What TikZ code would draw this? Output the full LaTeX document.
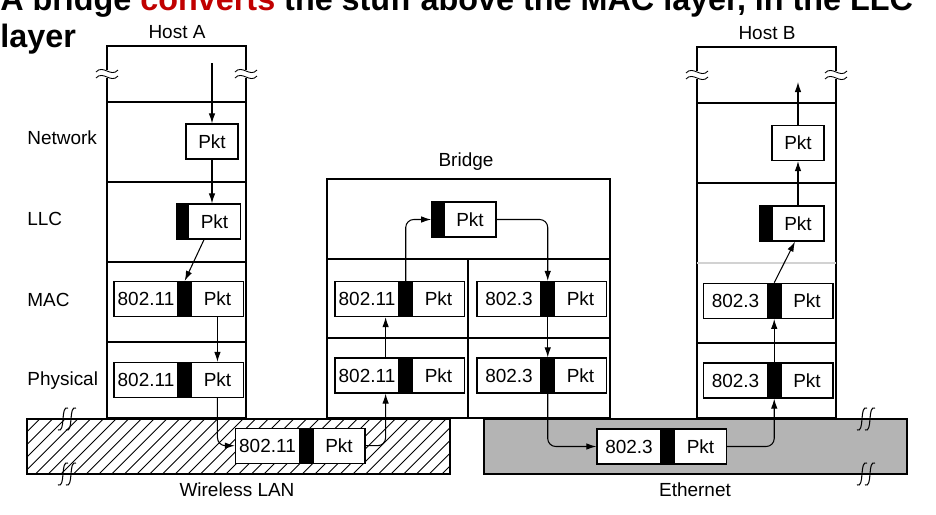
\documentclass[tikz,border=0pt]{standalone}
\usepackage{fontspec}
\setmainfont{Liberation Sans}
\usepackage{xcolor}
\usetikzlibrary{positioning,calc,arrows.meta}

\definecolor{convred}{RGB}{192,0,0}
\definecolor{ethgray}{RGB}{180,180,180}

% break marks on the stacks and on the media
\newcommand{\stackcut}[2]{%
  \fill[white] (#1-3,#2-4) rectangle (#1+3,#2+4);
  \draw[line width=0.5pt] (#1-11,#2-2) .. controls (#1-4,#2-10) and (#1+4,#2+4) .. (#1+11,#2-4);
  \draw[line width=0.5pt] (#1-11,#2+4) .. controls (#1-4,#2-4) and (#1+4,#2+10) .. (#1+11,#2+2);}
\newcommand{\mediumcut}[2]{%
  \draw[line width=0.6pt] (#1+5,#2-11) .. controls (#1-3,#2-14) and (#1+3,#2+14) .. (#1-5,#2+11);
  \draw[line width=0.6pt] (#1+13,#2-11) .. controls (#1+5,#2-14) and (#1+11,#2+14) .. (#1+3,#2+11);}

\begin{document}
\begin{tikzpicture}[x=0.2mm,y=-0.2mm,
    font=\fontsize{10.8}{13}\selectfont,
    hdr/.style={rectangle, draw, fill=white, line width=0.7pt, minimum width=12.8mm, minimum height=7mm, inner sep=0pt},
    bar/.style={rectangle, draw, fill=black, line width=0.7pt, minimum width=2.2mm, minimum height=7mm, inner sep=0pt},
    pkt/.style={rectangle, draw, fill=white, line width=0.7pt, minimum width=10.4mm, minimum height=7mm, inner sep=0pt},
    flow/.style={-{Latex[length=2mm,width=1.3mm]}, line width=0.6pt, rounded corners=1.6mm},
    wall/.style={line width=0.8pt},
    tag/.style={inner sep=0pt}]
  \useasboundingbox (0,0) rectangle (936,514);
  \clip (0,0) rectangle (936,514);

  % title
  \node[tag, anchor=base west, font=\fontsize{18.4}{22}\selectfont\bfseries] (title1) at (0,10)
    {A bridge \textcolor{convred}{converts} the stuff above the MAC layer, in the LLC};
  \node[tag, anchor=base west, font=\fontsize{18.4}{22}\selectfont\bfseries] (title2) at (0,47) {layer};

  % media
  \draw[wall, fill=ethgray] (484,419) rectangle (907,474);
  \begin{scope}
    \clip (27,419) rectangle (450,474);
    \foreach \i in {0,...,38}
      \draw[line width=0.5pt] ({-28+\i*12.7},474) -- ++(55,-55);
  \end{scope}
  \draw[wall] (27,419) rectangle (450,474);
  \mediumcut{63}{419} \mediumcut{63}{474}
  \mediumcut{862}{419} \mediumcut{862}{474}
  \node[tag] (wlan) at (237,490) {Wireless LAN};
  \node[tag] (ether) at (695,490) {Ethernet};

  % host A
  \draw[wall] (107,46) rectangle (246,418);
  \foreach \y in {102,182,262,342}
    \draw[wall] (107,\y) -- (246,\y);
  \stackcut{107}{74} \stackcut{246}{74}
  \node[tag] (hostA) at (177,32) {Host A};
  \node[tag, anchor=west] (lNet) at (27,138) {Network};
  \node[tag, anchor=west] (lLlc) at (27,219) {LLC};
  \node[tag, anchor=west] (lMac) at (27,300) {MAC};
  \node[tag, anchor=west] (lPhy) at (27,381) {Physical};

  % bridge
  \draw[wall] (327,179) rectangle (610,418);
  \draw[wall] (327,259) -- (610,259);
  \draw[wall] (327,338) -- (610,338);
  \draw[wall] (468,259) -- (468,418);
  \node[tag] (bridge) at (466,162) {Bridge};

  % host B
  \draw[wall] (697,47) rectangle (836,418);
  \foreach \y in {103,183,343}
    \draw[wall] (697,\y) -- (836,\y);
  \draw[wall, gray!35] (697,263) -- (836,263);
  \stackcut{697}{75} \stackcut{836}{75}
  \node[tag] (hostB) at (767,33) {Host B};

  % frames in host A
  \node[pkt] (netA) at (212,141.5) {Pkt};
  \node[pkt] (llcA) at (214.5,221.5) {Pkt};
  \node[bar, left=0pt of llcA] (llcAb) {};
  \node[hdr] (macAh) at (146,299) {802.11};
  \node[bar, right=0pt of macAh] (macAb) {};
  \node[pkt, right=0pt of macAb] (macA) {Pkt};
  \node[hdr] (phyAh) at (146,380) {802.11};
  \node[bar, right=0pt of phyAh] (phyAb) {};
  \node[pkt, right=0pt of phyAb] (phyA) {Pkt};

  % frames on the wireless LAN
  \node[hdr] (wlanH) at (267.5,445.7) {802.11};
  \node[bar, right=0pt of wlanH] (wlanB) {};
  \node[pkt, right=0pt of wlanB] (wlanP) {Pkt};

  % frames in the bridge
  \node[pkt] (brTop) at (470,219.5) {Pkt};
  \node[bar, left=0pt of brTop] (brTopb) {};
  \node[hdr] (brMacLh) at (367,299) {802.11};
  \node[bar, right=0pt of brMacLh] (brMacLb) {};
  \node[pkt, right=0pt of brMacLb] (brMacL) {Pkt};
  \node[hdr] (brPhyLh) at (367,375.5) {802.11};
  \node[bar, right=0pt of brPhyLh] (brPhyLb) {};
  \node[pkt, right=0pt of brPhyLb] (brPhyL) {Pkt};
  \node[hdr] (brMacRh) at (509,299) {802.3};
  \node[bar, right=0pt of brMacRh] (brMacRb) {};
  \node[pkt, right=0pt of brMacRb] (brMacR) {Pkt};
  \node[hdr] (brPhyRh) at (509,375.5) {802.3};
  \node[bar, right=0pt of brPhyRh] (brPhyRb) {};
  \node[pkt, right=0pt of brPhyRb] (brPhyR) {Pkt};

  % frames on the ethernet
  \node[hdr] (ethH) at (629,446.5) {802.3};
  \node[bar, right=0pt of ethH] (ethB) {};
  \node[pkt, right=0pt of ethB] (ethP) {Pkt};

  % frames in host B
  \node[pkt] (netB) at (798,143) {Pkt};
  \node[pkt] (llcB) at (798,223.5) {Pkt};
  \node[bar, left=0pt of llcB] (llcBb) {};
  \node[hdr] (macBh) at (735.5,300.8) {802.3};
  \node[bar, right=0pt of macBh] (macBb) {};
  \node[pkt, right=0pt of macBb] (macB) {Pkt};
  \node[hdr] (phyBh) at (735.5,380.5) {802.3};
  \node[bar, right=0pt of phyBh] (phyBb) {};
  \node[pkt, right=0pt of phyBb] (phyB) {Pkt};

  % path of the packet
  \coordinate (inA) at (212,63);
  \coordinate (outB) at (798,82);
  \draw[flow] (inA) -- (netA.north);
  \draw[flow] (netA.south) -- (netA.south |- llcA.north);
  \draw[flow] (llcA.240) -- (macAb.north);
  \draw[flow] (macA.south) -- (phyA.north);
  \draw[flow] (phyA.south) |- (wlanH.west);
  \draw[flow] (wlanP.east) -| ([xshift=-2.8mm]brPhyLh.south east);
  \draw[flow] ([xshift=-2.8mm]brPhyLh.north east) -- ([xshift=-2.8mm]brMacLh.south east);
  \draw[flow] (brMacLb.north) |- (brTopb.west);
  \draw[flow] (brTop.east) -| (brMacRb.north);
  \draw[flow] (brMacRb.south) -- (brPhyRb.north);
  \draw[flow] (brPhyRb.south) |- (ethH.west);
  \draw[flow] (ethP.east) -| (phyBb.south);
  \draw[flow] (phyBb.north) -- (macBb.south);
  \draw[flow] (macBb.north) -- ([xshift=-0.6mm]llcB.south);
  \draw[flow] (llcB.north) -- (netB.south);
  \draw[flow] (netB.north) -- (outB);
\end{tikzpicture}
\end{document}
